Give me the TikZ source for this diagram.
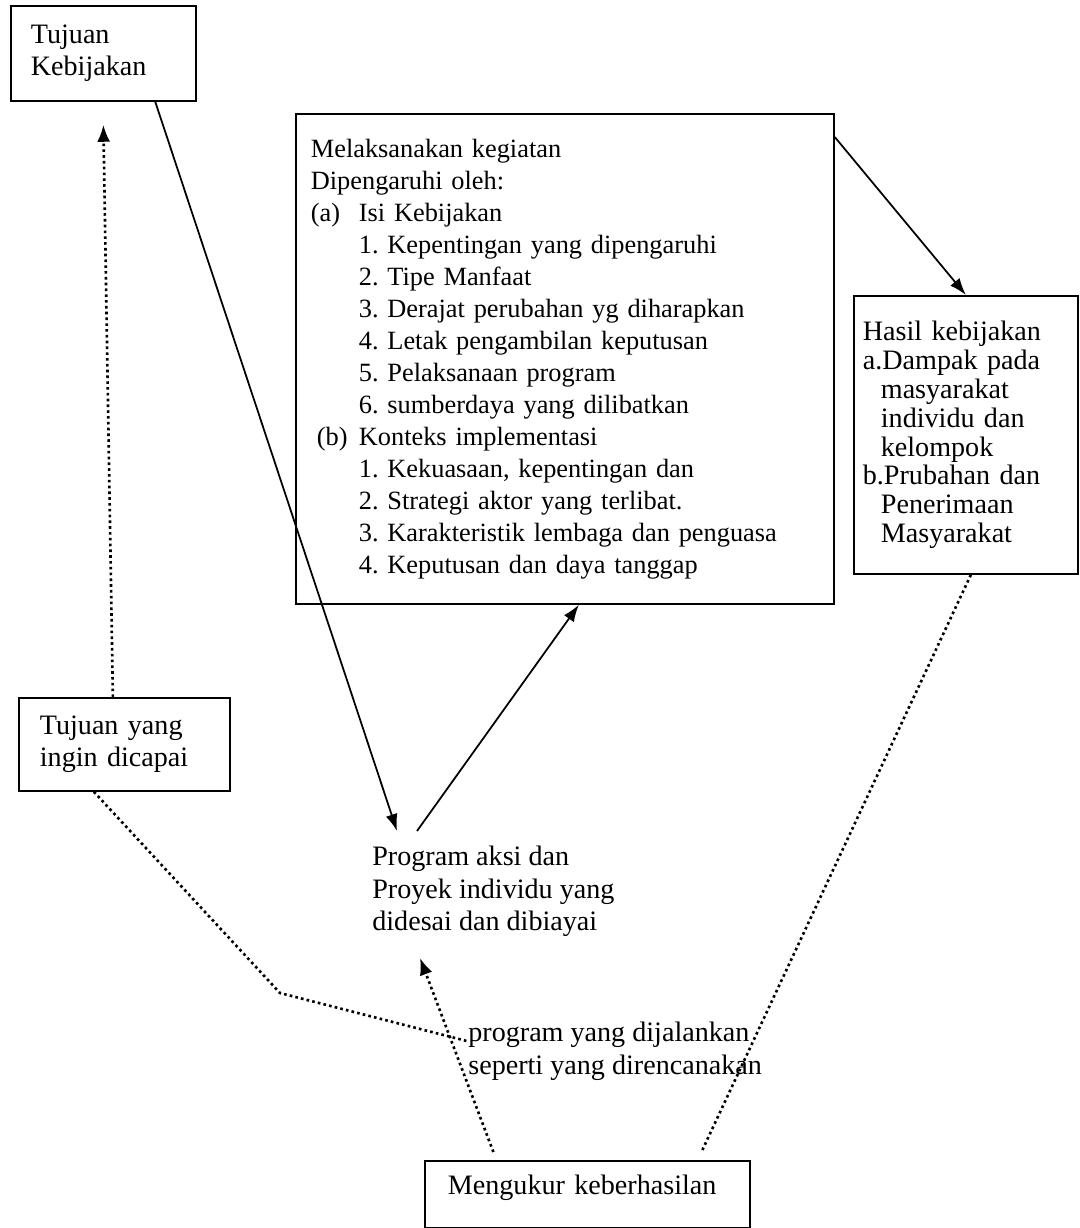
\documentclass[tikz,border=0pt]{standalone}
\usepackage{fontspec}
\setmainfont{Liberation Serif}
\usetikzlibrary{arrows.meta}
\usetikzlibrary{positioning}

\newcommand{\indt}{\hspace*{0.96cm}}
\frenchspacing

\begin{document}
\begin{tikzpicture}[
        box/.style = {draw, line width = 1pt, align = left, inner ysep = 0mm, anchor = north west,
                      font = \fontsize{16}{18.4}\selectfont},
        txt/.style = {align = left, anchor = north west, font = \fontsize{16}{18.4}\selectfont},
        arr/.style = {draw, line width = 1pt, -{Latex[length = 3.4mm, width = 2.4mm]}},
        darr/.style = {draw, line width = 1.5pt, dash pattern = on 1.5pt off 1.8pt,
                       -{Latex[length = 3.4mm, width = 2.6mm]}},
        dln/.style = {draw, line width = 1.5pt, dash pattern = on 1.5pt off 1.8pt},
    ]
    \useasboundingbox (0,0) rectangle (21.58,-24.56);

    \node (tk) [box, inner xsep = 4mm, text width = 2.9cm, minimum height = 1.9cm] at (0.2,-0.1)
        {Tujuan\\ Kebijakan};
    \node (mk) [box, inner xsep = 3mm, text width = 10.16cm, minimum height = 9.8cm,
                font = \fontsize{15}{18.2}\selectfont] at (5.9,-2.26)
        {Melaksanakan kegiatan\\
         Dipengaruhi oleh:\\
         \makebox[0.96cm][l]{(a)}Isi Kebijakan\\
         \indt 1. Kepentingan yang dipengaruhi\\
         \indt 2. Tipe Manfaat\\
         \indt 3. Derajat perubahan yg diharapkan\\
         \indt 4. Letak pengambilan keputusan\\
         \indt 5. Pelaksanaan program\\
         \indt 6. sumberdaya yang dilibatkan\\
         \hspace*{0.12cm}\makebox[0.84cm][l]{(b)}Konteks implementasi\\
         \indt 1. Kekuasaan, kepentingan dan\\
         \indt 2. Strategi aktor yang terlibat.\\
         \indt 3. Karakteristik lembaga dan penguasa\\
         \indt 4. Keputusan dan daya tanggap};
    \node (hk) [box, inner xsep = 1.8mm, text width = 4.12cm, minimum height = 5.56cm,
                font = \fontsize{16}{16.4}\selectfont] at (17.06,-5.9)
        {Hasil kebijakan\\
         a.Dampak pada\\
         \hspace*{0.36cm}masyarakat\\
         \hspace*{0.36cm}individu dan\\
         \hspace*{0.36cm}kelompok\\
         b.Prubahan dan\\
         \hspace*{0.36cm}Penerimaan\\
         \hspace*{0.36cm}Masyarakat};
    \node (ty) [box, inner xsep = 4.2mm, text width = 3.38cm, minimum height = 1.86cm] at (0.36,-13.94)
        {Tujuan yang\\ ingin dicapai};
    \node (pa) [txt, inner sep = 3mm] at (7.14,-16.62)
        {Program aksi dan\\ Proyek individu yang\\ didesai dan dibiayai};
    \node (pr) [txt, inner sep = 0mm] at (9.36,-20.44)
        {program yang dijalankan\\ seperti yang direncanakan};
    \node (mg) [box, inner xsep = 4.6mm, text width = 5.58cm, minimum height = 1.34cm,
                text height = 0.4cm, text depth = 0.4cm] at (8.48,-23.2)
        {Mengukur keberhasilan};

    \coordinate (bend) at (5.6,-19.86);

    \path[arr] (tk.-43) -- ([xshift = 0.8cm]pa.north west);
    \path[arr] ([xshift = 1.2cm]pa.north west) -- ([xshift = 0.28cm]mk.south);
    \path[arr] ([yshift = -0.48cm]mk.north east) -- (hk.north);
    \path[darr] ([xshift = -0.23cm]ty.north) -- ([yshift = -0.46cm]tk.south);
    \path[dln] ([xshift = -0.61cm]ty.south) -- (bend) -- ([yshift = 0.2cm]pr.west);
    \path[darr] ([xshift = -1.88cm, yshift = 0.16cm]mg.north) -- ([xshift = 1.26cm, yshift = -0.12cm]pa.south west);
    \path[dln] ([xshift = 2.3cm, yshift = 0.2cm]mg.north) -- ([xshift = 0.1cm]hk.south);
\end{tikzpicture}
\end{document}
